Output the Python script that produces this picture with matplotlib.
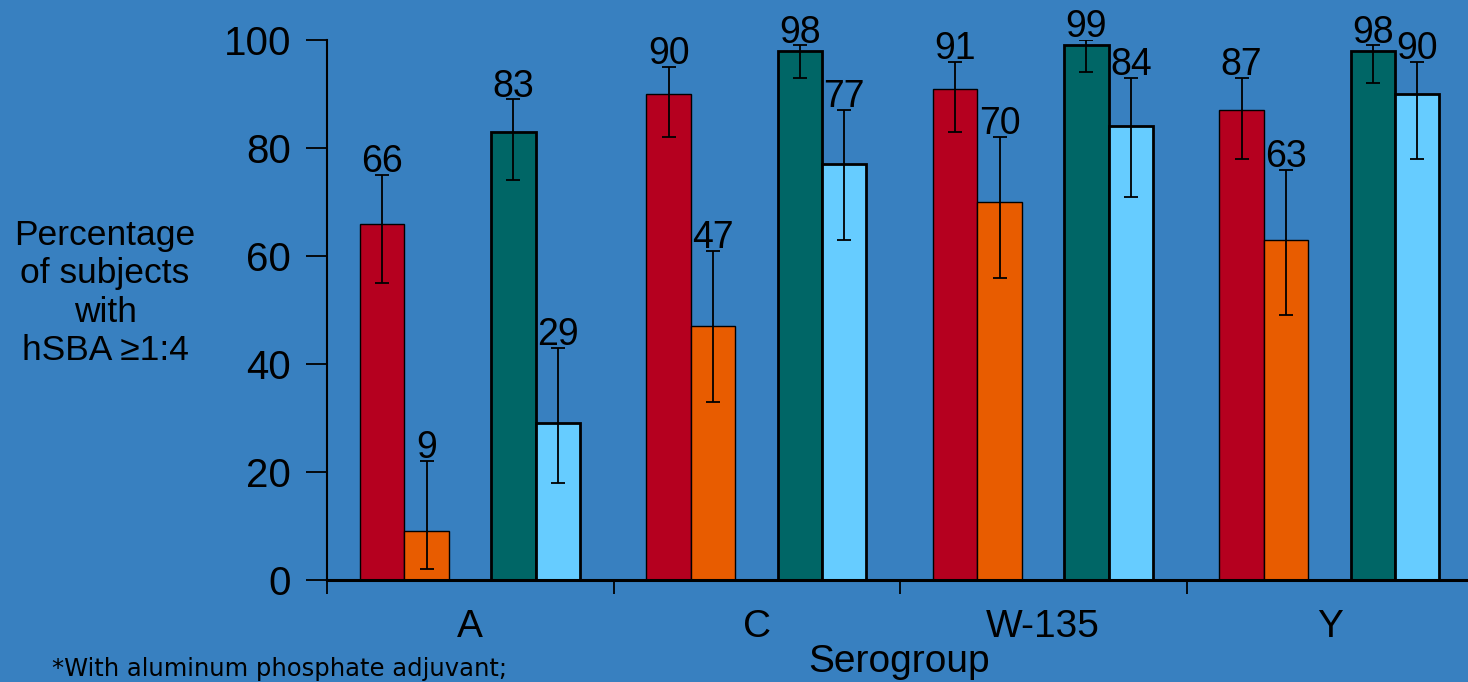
import matplotlib.pyplot as plt
import numpy as np

# serogroups and the four vaccine groups (percent with hSBA >= 1:4)
groups = ["A", "C", "W-135", "Y"]
red_vals = [66, 90, 91, 87]
orange_vals = [9, 47, 70, 63]
green_vals = [83, 98, 99, 98]
lblue_vals = [29, 77, 84, 90]

# 95% CI limits
red_lo = [55, 82, 83, 78]
red_hi = [75, 95, 96, 93]
orange_lo = [2, 33, 56, 49]
orange_hi = [22, 61, 82, 76]
green_lo = [74, 93, 94, 92]
green_hi = [89, 99, 100, 99]
lblue_lo = [18, 63, 71, 78]
lblue_hi = [43, 87, 93, 96]

bg = "#3880c0"
plt.rcParams['font.family'] = ['Liberation Sans', 'DejaVu Sans']

fig = plt.figure(figsize=(14.68, 6.82), dpi=100, facecolor=bg)
ax = fig.add_axes([327/1468, 102/682, 1146/1468, 540/682])
ax.set_facecolor(bg)

x = np.arange(len(groups))
w = 0.155
series = [
    (red_vals, red_lo, red_hi, "#b5001f", 0.1925, 1.0),
    (orange_vals, orange_lo, orange_hi, "#e85c00", 0.3475, 1.0),
    (green_vals, green_lo, green_hi, "#006666", 0.6505, 2.0),
    (lblue_vals, lblue_lo, lblue_hi, "#66ccff", 0.8055, 2.0),
]

for vals, lo, hi, col, off, lw in series:
    vals = np.array(vals)
    err = [vals - np.array(lo), np.array(hi) - vals]
    ax.bar(x + off, vals, w, color=col, edgecolor="black", linewidth=lw, zorder=2)
    ax.errorbar(x + off, vals, yerr=err, fmt="none", ecolor="black",
                elinewidth=1.3, capsize=5, capthick=1.3, zorder=3)
    for xi, v, h in zip(x + off, vals, hi):
        ax.annotate(str(v), (xi, h), xytext=(0, 2), textcoords="offset points",
                    ha="center", va="baseline", fontsize=27, annotation_clip=False)

ax.set_xlim(0, 4)
ax.set_ylim(0, 100)
ax.set_yticks(range(0, 101, 20))
ax.set_xticks(x)
ax.set_xticklabels([])
ax.set_xticks(x + 0.5, minor=True)
ax.set_xticklabels(groups, minor=True, fontsize=28)
ax.tick_params(axis="x", which="major", direction="out", length=10, width=1.3)
ax.tick_params(axis="x", which="minor", length=0, pad=21)
ax.tick_params(axis="y", direction="out", length=15, width=1.3, labelsize=29, pad=11)

for s in ["top", "right"]:
    ax.spines[s].set_visible(False)
ax.spines["left"].set_linewidth(1.5)
ax.spines["bottom"].set_linewidth(2.2)

fig.text(899/1468, 1 - 662/682, "Serogroup", ha="center", va="center", fontsize=28)
fig.text(105/1468, 1 - 293/682, "Percentage\nof subjects\nwith\nhSBA \u22651:4",
         ha="center", va="center", multialignment="center", fontsize=25.5,
         linespacing=1.2)
fig.text(52/1468, 1 - 681/682, "*With aluminum phosphate adjuvant;",
         ha="left", va="bottom", fontsize=17.5, family=["DejaVu Sans"])

fig.savefig("out.png", dpi=100, facecolor=bg)
